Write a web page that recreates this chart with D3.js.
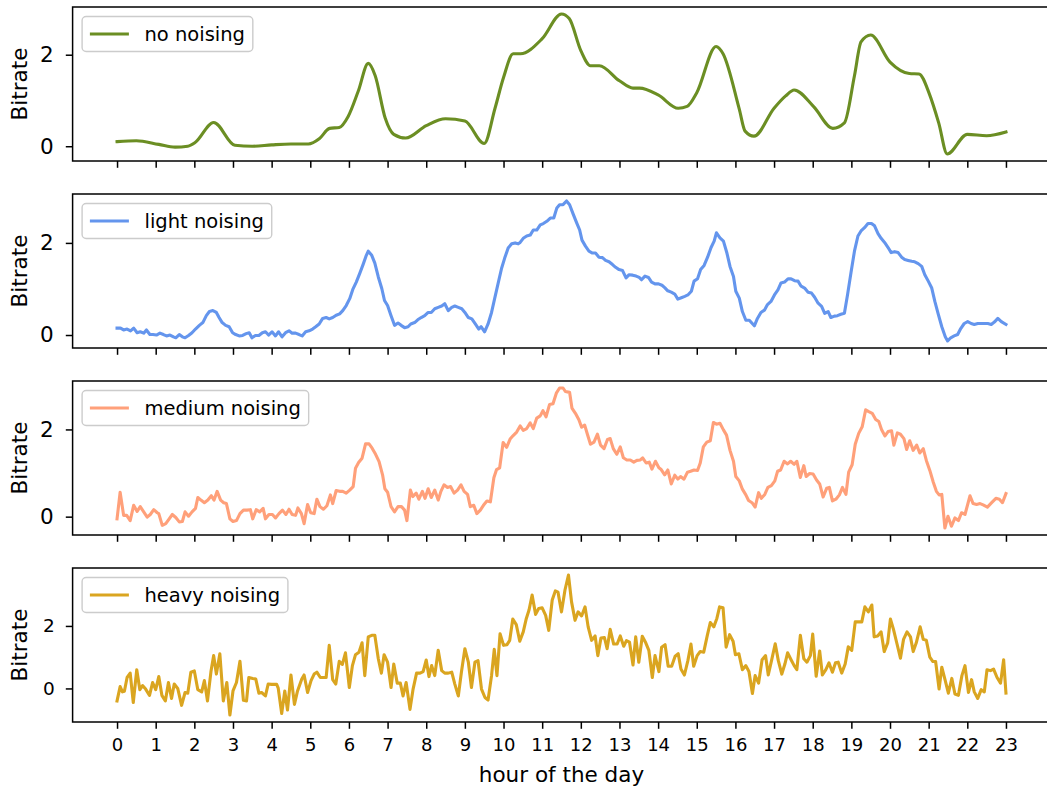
<!DOCTYPE html>
<html>
<head>
<meta charset="utf-8">
<script src="https://cdn.jsdelivr.net/npm/d3@7/dist/d3.min.js"></script>
<style>
  body { margin: 0; background: #ffffff; }
  svg text { font-family: "DejaVu Sans", sans-serif; fill: #000; }
</style>
</head>
<body>
<svg id="chart" width="1047" height="790"></svg>
<script>
// ---- data: bitrate over the day, one series per noising level ----
const hourTicks = d3.range(0, 24);
const seriesNames = ["no noising", "light noising", "medium noising", "heavy noising"];
const seriesColors = ["#6b8e23", "#6495ed", "#ffa07a", "#daa520"];

const noneHours = [
  0, 0.5, 1.08, 1.5, 1.83, 2.02, 2.5, 3.05, 3.5, 4.0,
  4.5, 4.95, 5.24, 5.5, 5.75, 5.98, 6.24, 6.5, 6.68, 6.94,
  7.16, 7.47, 8.0, 8.5, 9.0, 9.5, 9.78, 10.0, 10.25, 10.44,
  11.0, 11.5, 11.7, 12.0, 12.25, 12.48, 13.0, 13.35, 13.52, 14.0,
  14.52, 14.75, 15.0, 15.5, 15.68, 16.1, 16.25, 16.48, 17.0, 17.3,
  17.52, 18.03, 18.52, 18.82, 19.08, 19.25, 19.5, 20.0, 20.5, 20.75,
  21.02, 21.26, 21.48, 22.0, 22.5, 23.0];
const noneValues = [
  0.1, 0.12, 0.04, -0.02, 0.0, 0.08, 0.52, 0.02, 0.0, 0.03,
  0.05, 0.05, 0.17, 0.39, 0.41, 0.65, 1.2, 1.81, 1.54, 0.61,
  0.26, 0.18, 0.45, 0.6, 0.55, 0.06, 0.83, 1.5, 2.02, 2.02,
  2.35, 2.89, 2.79, 2.09, 1.76, 1.76, 1.43, 1.27, 1.27, 1.12,
  0.83, 0.87, 1.17, 2.18, 2.02, 0.81, 0.33, 0.22, 0.83, 1.1,
  1.23, 0.86, 0.39, 0.51, 1.54, 2.28, 2.43, 1.84, 1.59, 1.58,
  1.14, 0.51, -0.17, 0.26, 0.23, 0.31];

const lightHours = [
  0, 0.09, 0.17, 0.26, 0.35, 0.43, 0.52, 0.6, 0.69, 0.76,
  0.85, 0.93, 1.02, 1.11, 1.2, 1.28, 1.37, 1.46, 1.52, 1.61,
  1.69, 1.76, 1.85, 1.94, 2.03, 2.13, 2.22, 2.31, 2.39, 2.48,
  2.57, 2.64, 2.72, 2.81, 2.9, 2.99, 3.07, 3.16, 3.25, 3.34,
  3.42, 3.49, 3.58, 3.67, 3.76, 3.84, 3.92, 4.01, 4.1, 4.18,
  4.27, 4.36, 4.45, 4.53, 4.62, 4.71, 4.79, 4.88, 4.97, 5.06,
  5.14, 5.23, 5.32, 5.41, 5.49, 5.58, 5.67, 5.76, 5.84, 5.93,
  6.02, 6.1, 6.19, 6.28, 6.37, 6.45, 6.5, 6.59, 6.67, 6.76,
  6.85, 6.92, 7.0, 7.09, 7.18, 7.27, 7.35, 7.44, 7.53, 7.6,
  7.7, 7.78, 7.87, 7.96, 8.05, 8.13, 8.22, 8.31, 8.4, 8.48,
  8.57, 8.66, 8.74, 8.83, 8.92, 9.0, 9.09, 9.18, 9.27, 9.36,
  9.42, 9.51, 9.6, 9.69, 9.77, 9.86, 9.95, 10.03, 10.12, 10.21,
  10.3, 10.38,
  10.43, 10.51, 10.6, 10.69, 10.77, 10.86, 10.95, 11.03, 11.12, 11.21,
  11.3, 11.38, 11.45, 11.54, 11.63, 11.71, 11.8, 11.89, 11.97, 12.03,
  12.12, 12.21, 12.3, 12.38, 12.47, 12.56, 12.64, 12.73, 12.82, 12.9,
  12.99, 13.08, 13.17, 13.25, 13.34, 13.43, 13.51, 13.57, 13.66, 13.75,
  13.83, 13.92, 14.01, 14.1, 14.17, 14.25, 14.34, 14.43, 14.51, 14.6,
  14.69, 14.77, 14.86, 14.93, 15.02, 15.1, 15.19, 15.28, 15.37, 15.45,
  15.51, 15.6, 15.69, 15.78, 15.86, 15.95, 16.01, 16.1, 16.18, 16.27,
  16.36, 16.49, 16.57, 16.66, 16.75, 16.83, 16.92, 17.01, 17.1, 17.18,
  17.27, 17.36, 17.44, 17.53, 17.62, 17.7, 17.79, 17.88, 17.97, 18.05,
  18.14, 18.23, 18.31, 18.4, 18.47, 18.56, 18.64, 18.73, 18.82, 18.9,
  18.99, 19.08, 19.17, 19.25, 19.34, 19.43, 19.52, 19.6, 19.69, 19.77,
  19.86, 19.95, 20.03, 20.12, 20.21, 20.3, 20.38, 20.47, 20.56, 20.64,
  20.73, 20.82, 20.9, 20.99, 21.08, 21.16, 21.25, 21.34, 21.43, 21.49,
  21.57, 21.66, 21.75, 21.83, 21.92, 22.01, 22.1, 22.18, 22.27, 22.36,
  22.44, 22.53, 22.62, 22.7, 22.79, 22.88, 23.0];
const lightValues = [
  0.15, 0.15, 0.11, 0.13, 0.09, 0.15, 0.05, 0.07, 0.04, 0.11,
  0.01, 0.01, 0.0, 0.04, 0.01, -0.02, 0.0, -0.04, -0.06, 0.01,
  -0.04, -0.06, -0.01, 0.05, 0.13, 0.21, 0.27, 0.42, 0.51, 0.53,
  0.49, 0.38, 0.27, 0.21, 0.18, 0.05, 0.01, -0.02, -0.01, 0.03,
  0.05, -0.06, -0.01, -0.01, 0.05, 0.07, 0.0, 0.07, -0.02, 0.07,
  -0.04, 0.05, 0.09, 0.04, 0.04, 0.01, -0.02, 0.07, 0.09, 0.13,
  0.18, 0.24, 0.36, 0.38, 0.35, 0.38, 0.43, 0.46, 0.53, 0.64,
  0.79, 0.99, 1.15, 1.34, 1.54, 1.73, 1.82, 1.73, 1.56, 1.26,
  1.01, 0.75, 0.64, 0.42, 0.21, 0.26, 0.21, 0.16, 0.18, 0.24,
  0.27, 0.33, 0.38, 0.42, 0.49, 0.49, 0.57, 0.6, 0.63, 0.68,
  0.53, 0.6, 0.63, 0.6, 0.57, 0.49, 0.38, 0.35, 0.24, 0.13,
  0.18, 0.07, 0.24, 0.49, 0.79, 1.12, 1.45, 1.67, 1.89, 1.98,
  2.0, 1.98,
  2.01, 2.1, 2.15, 2.17, 2.28, 2.28, 2.39, 2.42, 2.47, 2.54,
  2.54, 2.76, 2.83, 2.83, 2.91, 2.83, 2.63, 2.44, 2.28, 2.06,
  1.93, 1.82, 1.78, 1.78, 1.69, 1.68, 1.62, 1.59, 1.53, 1.47,
  1.42, 1.4, 1.24, 1.31, 1.3, 1.28, 1.25, 1.2, 1.28, 1.25,
  1.15, 1.11, 1.11, 1.08, 1.03, 0.96, 0.93, 0.89, 0.78, 0.81,
  0.84, 0.87, 0.95, 1.17, 1.22, 1.42, 1.51, 1.69, 1.9, 2.04,
  2.22, 2.11, 2.04, 1.78, 1.49, 1.27, 0.95, 0.8, 0.51, 0.32,
  0.32, 0.2, 0.36, 0.49, 0.54, 0.66, 0.73, 0.87, 0.98, 1.13,
  1.15, 1.22, 1.22, 1.18, 1.17, 1.06, 1.02, 0.93, 0.91, 0.82,
  0.69, 0.62, 0.47, 0.51, 0.38, 0.41, 0.42, 0.45, 0.47, 0.87,
  1.35, 1.82, 2.15, 2.26, 2.33, 2.42, 2.42, 2.37, 2.2, 2.1,
  2.01, 1.9, 1.79, 1.81, 1.79, 1.69, 1.64, 1.62, 1.6, 1.59,
  1.55, 1.49, 1.31, 1.17, 1.02, 0.73, 0.45, 0.18, -0.04, -0.13,
  -0.06, -0.02, 0.01, 0.14, 0.25, 0.29, 0.25, 0.23, 0.25, 0.25,
  0.25, 0.25, 0.23, 0.28, 0.36, 0.29, 0.23];

const mediumHours = [
  0, 0.08, 0.17, 0.25, 0.34, 0.43, 0.52, 0.6, 0.69, 0.78,
  0.86, 0.95, 1.04, 1.08, 1.17, 1.26, 1.34, 1.43, 1.52, 1.61,
  1.69, 1.76, 1.85, 1.94, 2.03, 2.09, 2.17, 2.26, 2.35, 2.44,
  2.51, 2.59, 2.68, 2.76, 2.83, 2.92, 3.0, 3.09, 3.18, 3.27,
  3.36, 3.45, 3.51, 3.6, 3.69, 3.78, 3.84, 3.93, 4.02, 4.1,
  4.19, 4.28, 4.37, 4.45, 4.53, 4.62, 4.68, 4.77, 4.84, 4.93,
  5.01, 5.1, 5.17, 5.25, 5.34, 5.43, 5.52, 5.58, 5.67, 5.76,
  5.84, 5.93, 6.02, 6.11, 6.17, 6.25, 6.34, 6.43, 6.52, 6.6,
  6.69, 6.78, 6.87, 6.93, 7.0, 7.09, 7.18, 7.27, 7.36, 7.44,
  7.5, 7.59, 7.65, 7.74, 7.81, 7.9, 7.97, 8.05, 8.13, 8.22,
  8.31, 8.38, 8.46, 8.55, 8.63, 8.72, 8.81, 8.9, 8.98, 9.07,
  9.14, 9.23, 9.31, 9.4, 9.48, 9.57, 9.66, 9.75, 9.82, 9.9,
  9.99, 10.08, 10.17, 10.25, 10.34,
  10.43, 10.51, 10.6, 10.69, 10.77, 10.86, 10.95, 11.02, 11.1, 11.19,
  11.28, 11.37, 11.45, 11.54, 11.6, 11.71, 11.77, 11.86, 11.95, 12.02,
  12.1, 12.17, 12.25, 12.34, 12.43, 12.51, 12.6, 12.69, 12.76, 12.84,
  12.93, 13.02, 13.1, 13.19, 13.28, 13.37, 13.45, 13.54, 13.6, 13.69,
  13.77, 13.84, 13.93, 14.02, 14.08, 14.17, 14.25, 14.34, 14.43, 14.51,
  14.58, 14.67, 14.76, 14.84, 14.93, 15.02, 15.09, 15.17, 15.26, 15.35,
  15.43, 15.51, 15.6, 15.69, 15.77, 15.86, 15.95, 16.01, 16.1, 16.18,
  16.27, 16.34, 16.43, 16.51, 16.6, 16.67, 16.76, 16.84, 16.93, 17.02,
  17.09, 17.17, 17.26, 17.35, 17.43, 17.52, 17.59, 17.68, 17.77, 17.83,
  17.92, 18.01, 18.1, 18.18, 18.27, 18.36, 18.43, 18.51, 18.6, 18.69,
  18.77, 18.86, 18.93, 19.02, 19.1, 19.19, 19.28, 19.37, 19.45, 19.54,
  19.63, 19.71, 19.78, 19.87, 19.95, 20.04, 20.1, 20.19, 20.27, 20.36,
  20.43, 20.51, 20.6, 20.69, 20.77, 20.86, 20.94, 21.03, 21.12, 21.2,
  21.27, 21.34, 21.42, 21.5, 21.59, 21.68, 21.77, 21.85, 21.94, 22.07,
  22.15, 22.24, 22.33, 22.41, 22.52, 22.63, 22.74, 22.83, 22.91, 23.0];
const mediumValues = [
  -0.05, 0.56, 0.03, 0.03, -0.09, 0.26, 0.12, 0.23, 0.11, -0.01,
  0.05, 0.16, 0.09, 0.07, -0.2, -0.16, -0.06, 0.05, -0.02, -0.12,
  -0.11, 0.11, 0.01, 0.11, 0.19, 0.44, 0.38, 0.32, 0.38, 0.48,
  0.38, 0.58, 0.38, 0.32, 0.3, -0.05, -0.11, -0.09, 0.07, 0.15,
  0.15, 0.16, -0.05, 0.16, 0.11, 0.19, -0.05, 0.05, 0.05, -0.03,
  0.07, 0.15, 0.05, 0.17, 0.05, 0.03, 0.2, 0.07, -0.16, 0.28,
  0.09, 0.07, 0.4, 0.23, 0.17, 0.25, 0.5, 0.3, 0.6, 0.58,
  0.58, 0.54, 0.61, 0.69, 1.11, 1.24, 1.34, 1.67, 1.67, 1.57,
  1.43, 1.26, 0.96, 0.64, 0.56, 0.23, 0.11, 0.23, 0.23, 0.15,
  -0.09, 0.61, 0.46, 0.54, 0.4, 0.58, 0.42, 0.64, 0.44, 0.61,
  0.38, 0.58, 0.73, 0.67, 0.69, 0.54, 0.61, 0.73, 0.58, 0.51,
  0.23, 0.26, 0.07, 0.15, 0.26, 0.36, 0.34, 0.89, 1.08, 1.12,
  1.7, 1.59, 1.78, 1.86, 1.94,
  2.08, 1.98, 2.02, 2.15, 2.02, 2.26, 2.31, 2.43, 2.29, 2.57,
  2.59, 2.84, 2.95, 2.95, 2.87, 2.85, 2.49, 2.37, 2.22, 2.05,
  2.1, 1.89, 1.66, 1.71, 1.89, 1.64, 1.56, 1.77, 1.79, 1.56,
  1.43, 1.6, 1.35, 1.3, 1.3, 1.25, 1.29, 1.3, 1.35, 1.23,
  1.25, 1.09, 1.27, 1.12, 1.08, 0.96, 1.07, 0.75, 0.95, 0.86,
  0.92, 0.86, 1.02, 1.04, 1.07, 1.06, 1.23, 1.6, 1.71, 1.74,
  2.16, 2.12, 2.14, 1.99, 1.87, 1.52, 1.27, 0.92, 0.82, 0.63,
  0.5, 0.37, 0.32, 0.22, 0.55, 0.42, 0.51, 0.67, 0.71, 0.82,
  1.04, 1.07, 1.27, 1.21, 1.27, 1.2, 1.27, 0.9, 1.17, 0.92,
  0.99, 0.98, 0.84, 0.75, 0.45, 0.65, 0.67, 0.36, 0.4, 0.5,
  0.67, 0.51, 1.02, 1.19, 1.66, 1.91, 2.06, 2.45, 2.41, 2.37,
  2.23, 2.18, 2.0, 1.85, 1.95, 1.97, 1.64, 1.92, 1.89, 1.79,
  1.54, 1.74, 1.52, 1.64, 1.46, 1.56, 1.29, 1.06, 0.79, 0.58,
  0.5, 0.51, -0.26, 0.01, -0.22, -0.03, -0.09, 0.09, 0.05, 0.48,
  0.3, 0.28, 0.3, 0.27, 0.22, 0.32, 0.42, 0.4, 0.32, 0.53];

const heavyHours = [
  0, 0.08, 0.14, 0.19, 0.26, 0.34, 0.42, 0.51, 0.59, 0.66,
  0.74, 0.84, 0.92, 1.0, 1.08, 1.16, 1.25, 1.33, 1.41, 1.48,
  1.57, 1.67, 1.76, 1.83, 1.91, 2.0, 2.09, 2.19, 2.26, 2.34,
  2.43, 2.5, 2.57, 2.66, 2.75, 2.84, 2.92, 3.0, 3.09, 3.18,
  3.27, 3.35, 3.41, 3.51, 3.59, 3.67, 3.74, 3.84, 3.91, 4.0,
  4.13, 4.17, 4.26, 4.34, 4.41, 4.5, 4.59, 4.67, 4.78, 4.84,
  4.93, 5.02, 5.1, 5.17, 5.26, 5.34, 5.41, 5.49, 5.58, 5.66,
  5.75, 5.83, 5.91, 6.01, 6.09, 6.17, 6.26, 6.34, 6.41, 6.5,
  6.59, 6.67, 6.76, 6.84, 6.91, 7.0, 7.09, 7.16, 7.25, 7.33,
  7.4, 7.48, 7.58, 7.66, 7.75, 7.84, 7.92, 8.0, 8.07, 8.14,
  8.22, 8.31, 8.4, 8.48, 8.57, 8.66, 8.74, 8.83, 8.91, 9.0,
  9.09, 9.17, 9.26, 9.34, 9.43, 9.52, 9.6, 9.69, 9.76, 9.83,
  9.91, 10.0, 10.09, 10.16, 10.24, 10.33, 10.42, 10.51, 10.59, 10.66,
  10.74, 10.83, 10.91, 11.0, 11.09, 11.17, 11.26, 11.34, 11.41, 11.5,
  11.59, 11.68, 11.76, 11.85, 11.93, 12.02, 12.11, 12.19, 12.28, 12.37,
  12.44, 12.52, 12.61, 12.68, 12.76, 12.85, 12.94, 13.02, 13.11, 13.18,
  13.26, 13.35, 13.42, 13.5, 13.59, 13.68, 13.76, 13.85, 13.92, 14.02,
  14.09, 14.18, 14.26, 14.35, 14.44, 14.52, 14.59, 14.68, 14.77, 14.85,
  14.92, 15.01, 15.09, 15.18, 15.27, 15.35, 15.44, 15.52, 15.59, 15.68,
  15.76, 15.85, 15.94, 16.0, 16.09, 16.18, 16.27, 16.35, 16.44, 16.51,
  16.6, 16.69, 16.78, 16.85, 16.94, 17.03, 17.11, 17.2, 17.28, 17.35,
  17.44, 17.52, 17.59, 17.68, 17.77, 17.85, 17.94, 18.0, 18.09, 18.18,
  18.25, 18.34, 18.42, 18.51, 18.59, 18.66, 18.75, 18.84, 18.92, 19.01,
  19.1, 19.18, 19.27, 19.35, 19.44, 19.53, 19.59, 19.68, 19.77, 19.85,
  19.94, 20.01, 20.09, 20.18, 20.27, 20.35, 20.44, 20.53, 20.6, 20.68,
  20.78, 20.86, 20.94, 21.03, 21.11, 21.18, 21.27, 21.34, 21.42, 21.51,
  21.6, 21.68, 21.77, 21.86, 21.94, 22.03, 22.11, 22.18, 22.27, 22.36,
  22.44, 22.51, 22.6, 22.68, 22.77, 22.86, 22.94, 23.0];
const heavyValues = [
  -0.4, 0.06, -0.11, -0.09, 0.35, 0.49, -0.45, 0.6, -0.04, 0.09,
  -0.02, -0.22, 0.19, -0.04, 0.38, -0.22, -0.4, 0.19, -0.32, 0.14,
  0.0, -0.54, -0.13, -0.15, 0.52, 0.56, -0.04, -0.11, 0.25, -0.4,
  0.54, 1.05, 0.46, 1.11, -0.4, 0.19, -0.85, -0.08, 0.19, 0.87,
  -0.38, -0.4, 0.35, 0.32, 0.3, -0.15, -0.13, -0.24, 0.14, 0.13,
  0.13, 0.01, -0.8, -0.08, -0.69, 0.43, -0.51, -0.08, 0.3, 0.43,
  -0.13, 0.25, 0.46, 0.52, 0.35, 0.35, 0.35, 1.38, 0.28, 0.14,
  0.87, 0.77, 1.14, 0.03, 0.73, 1.08, 1.16, 1.46, 0.41, 1.65,
  1.7, 1.7, 0.95, 0.49, 1.08, 0.84, 0.03, 0.78, 0.17, 0.17,
  -0.24, 0.19, -0.67, -0.02, 0.49, 0.49, 0.54, 0.91, 0.38, 0.73,
  0.41, 1.22, 0.57, 0.49, 0.49, 0.52, 0.14, -0.24, 0.52, 1.27,
  0.84, 0.03, 0.84, 0.89, -0.02, -0.29, -0.37, 0.41, 1.25, 0.41,
  1.75, 1.38, 1.4, 1.54, 2.22, 2.04, 1.51, 1.81, 2.24, 2.51,
  2.99, 2.37, 2.56, 2.58, 2.34, 1.86, 2.83, 3.12, 3.08, 2.45,
  3.15, 3.63, 2.77, 2.18, 2.45, 2.32, 2.61, 1.97, 1.54, 1.68,
  1.05, 1.61, 1.63, 1.27, 1.89, 1.42, 1.42, 1.68, 1.35, 1.53,
  1.48, 0.75, 1.65, 0.84, 1.67, 1.46, 1.22, 0.35, 1.05, 0.54,
  1.32, 1.4, 0.71, 0.71, 1.03, 1.11, 0.62, 0.43, 0.89, 1.42,
  0.71, 1.05, 1.18, 1.16, 1.68, 2.11, 1.97, 2.24, 2.61, 2.58,
  1.32, 1.72, 1.51, 1.08, 1.11, 0.6, 0.73, 0.54, -0.16, 0.41,
  0.17, 0.92, 1.05, 0.43, 0.92, 1.43, 0.89, 0.46, 0.78, 1.14,
  0.92, 0.73, 0.6, 1.7, 0.95, 0.84, 1.05, 1.74, 0.39, 1.2,
  0.43, 0.6, 0.82, 0.52, 0.82, 0.84, 0.49, 0.78, 1.33, 1.22,
  2.13, 2.13, 2.13, 2.61, 2.45, 2.67, 1.65, 1.68, 1.81, 1.18,
  1.46, 2.22, 1.89, 1.43, 0.97, 1.57, 1.81, 1.65, 1.18, 1.46,
  1.97, 1.57, 1.54, 1.0, 0.86, 0.86, -0.02, 0.68, 0.3, -0.15,
  0.32, -0.18, -0.22, 0.41, 0.73, -0.13, 0.28, -0.11, -0.32, -0.04,
  -0.11, 0.6, 0.57, 0.62, 0.35, 0.17, 0.92, -0.15];

const seriesHours = [noneHours, lightHours, mediumHours, heavyHours];
const seriesValues = [noneValues, lightValues, mediumValues, heavyValues];
const yTicks = [0, 2];

// ---- layout ----
const axLeft = 72.6, axRight = 1050.4;
const panelTops = [7, 194, 381, 568];
const panelH = 154;
const tickLen = 6.8;
const lineW = 3.1;
const spineW = 1.5;
const yTickFont = [21.5, 21.5, 21.5, 18.5];
const yTickPad = [12, 12, 12, 11];

const svg = d3.select("#chart");

// shared x scale, padded 5% on each side of the data range
const xExt = d3.extent(d3.merge(seriesHours));
const xPad = (xExt[1] - xExt[0]) * 0.05;
const x = d3.scaleLinear().domain([xExt[0] - xPad, xExt[1] + xPad]).range([axLeft, axRight]);

seriesNames.forEach((name, i) => {
  const top = panelTops[i];
  const bottom = top + panelH;
  const isLast = i === seriesNames.length - 1;
  const data = d3.zip(seriesHours[i], seriesValues[i]).filter(d => d[0] != null && d[1] != null);

  const yExt = d3.extent(data, d => d[1]);
  const yPad = (yExt[1] - yExt[0]) * 0.05;
  const y = d3.scaleLinear().domain([yExt[0] - yPad, yExt[1] + yPad]).range([bottom, top]);

  const g = svg.append("g");

  // series line; the clean series is drawn with gently rounded joints
  const line = d3.line().x(d => x(d[0])).y(d => y(d[1]))
    .curve(i === 0 ? d3.curveMonotoneX : d3.curveLinear);
  g.append("path")
    .datum(data)
    .attr("fill", "none")
    .attr("stroke", seriesColors[i])
    .attr("stroke-width", lineW)
    .attr("stroke-linejoin", "round")
    .attr("stroke-linecap", "square")
    .attr("d", line);

  // frame
  g.append("rect")
    .attr("x", axLeft).attr("y", top)
    .attr("width", axRight - axLeft).attr("height", panelH)
    .attr("fill", "none").attr("stroke", "#000").attr("stroke-width", spineW);

  // y axis
  const yAxis = g.append("g")
    .attr("transform", `translate(${axLeft},0)`)
    .call(d3.axisLeft(y).tickValues(yTicks).tickFormat(d3.format("d"))
      .tickSize(tickLen).tickPadding(yTickPad[i]));
  yAxis.select(".domain").remove();
  yAxis.selectAll(".tick line").attr("stroke", "#000").attr("stroke-width", spineW);
  yAxis.selectAll(".tick text").attr("font-size", yTickFont[i]).attr("font-family", "DejaVu Sans").attr("fill", "#000");

  // x axis (labels only on the bottom panel)
  const xAxis = g.append("g")
    .attr("transform", `translate(0,${bottom})`)
    .call(d3.axisBottom(x).tickValues(hourTicks)
      .tickFormat(isLast ? d3.format("d") : () => "")
      .tickSize(tickLen).tickPadding(9));
  xAxis.select(".domain").remove();
  xAxis.selectAll(".tick line").attr("stroke", "#000").attr("stroke-width", spineW);
  xAxis.selectAll(".tick text").attr("font-size", 18).attr("font-family", "DejaVu Sans").attr("fill", "#000");

  // y label
  const cy = (top + bottom) / 2;
  g.append("text")
    .attr("transform", `translate(27,${cy}) rotate(-90)`)
    .attr("text-anchor", "middle")
    .attr("font-size", 21.5)
    .text("Bitrate");

  // legend, upper left
  const fs = 19.5;
  const lg = g.append("g").attr("transform", `translate(${axLeft + 9.5},${top + 9.5})`);
  const box = lg.append("rect");
  const boxH = 35;
  const label = lg.append("text")
    .attr("x", 0.4 * fs + 2 * fs + 0.8 * fs)
    .attr("y", boxH / 2)
    .attr("dy", "0.36em")
    .attr("font-size", fs)
    .text(name);
  const tw = label.node().getComputedTextLength();
  box.attr("x", 0).attr("y", 0)
    .attr("width", 0.4 * fs + 2 * fs + 0.8 * fs + tw + 0.4 * fs)
    .attr("height", boxH)
    .attr("rx", 4).attr("ry", 4)
    .attr("fill", "#ffffff").attr("fill-opacity", 0.8)
    .attr("stroke", "#cccccc").attr("stroke-width", 1.4);
  lg.append("line")
    .attr("x1", 0.4 * fs).attr("x2", 0.4 * fs + 2 * fs)
    .attr("y1", boxH / 2).attr("y2", boxH / 2)
    .attr("stroke", seriesColors[i]).attr("stroke-width", lineW);
  label.raise();
});

// x axis title
svg.append("text")
  .attr("x", (axLeft + axRight) / 2)
  .attr("y", 782)
  .attr("text-anchor", "middle")
  .attr("font-size", 21.5)
  .text("hour of the day");
</script>
</body>
</html>
